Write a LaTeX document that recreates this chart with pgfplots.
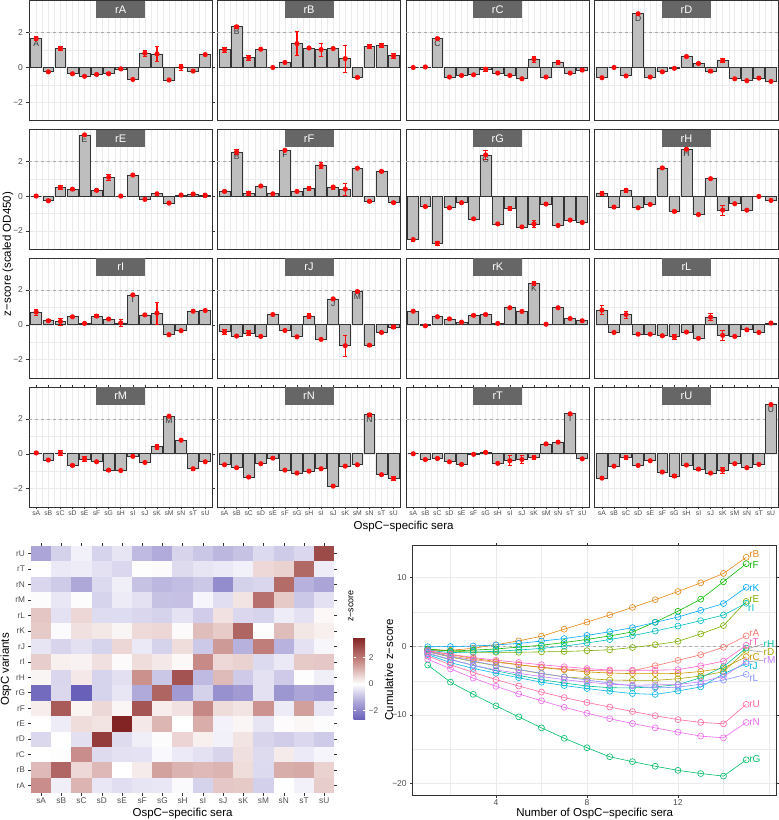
\documentclass[border=0pt]{standalone}
\usepackage{fontspec}
\setmainfont{Liberation Sans}
\usepackage{pgfplots}
\usepackage{pgfplotstable}
\pgfplotsset{compat=1.18}

\definecolor{tickgray}{RGB}{77,77,77}
\definecolor{framegray}{RGB}{51,51,51}
\definecolor{gridgray}{RGB}{235,235,235}
\definecolor{stripgray}{RGB}{102,102,102}
\definecolor{barfill}{RGB}{190,190,190}
\definecolor{errred}{RGB}{255,10,10}
\definecolor{cA}{HTML}{F8766D}
\definecolor{cB}{HTML}{E68613}
\definecolor{cC}{HTML}{CD9600}
\definecolor{cD}{HTML}{ABA300}
\definecolor{cE}{HTML}{7CAE00}
\definecolor{cF}{HTML}{0CB702}
\definecolor{cG}{HTML}{00BE67}
\definecolor{cH}{HTML}{00C19A}
\definecolor{cI}{HTML}{00BFC4}
\definecolor{cJ}{HTML}{00B8E7}
\definecolor{cK}{HTML}{00A9FF}
\definecolor{cL}{HTML}{8494FF}
\definecolor{cM}{HTML}{C77CFF}
\definecolor{cN}{HTML}{ED68ED}
\definecolor{cT}{HTML}{FF61CC}
\definecolor{cU}{HTML}{FF68A1}

% z-scores of each OspC variant (columns) against each serum (rows x=1..15: sA..sU), with error half-widths
\pgfplotstableread{
x A eA B eB C eC D eD E eE F eF G eG H eH I eI J eJ K eK L eL M eM N eN T eT U eU
1 1.66 .10 1.03 .15 0.00 .02 -0.59 .06 0.00 .10 0.27 .05 -2.50 .09 0.15 .12 0.73 .17 -0.40 .15 0.78 .03 0.84 .25 0.05 .05 -0.63 .03 0.00 .03 -1.40 .02
2 -0.25 .03 2.34 .10 0.03 .02 0.00 .02 -0.27 .06 2.54 .13 -0.60 .03 -0.63 .03 0.23 .06 -0.65 .03 -0.06 .03 -0.44 .04 -0.36 .03 -0.80 .04 -0.33 .03 -0.71 .05
3 1.09 .12 0.57 .14 1.66 .05 -0.48 .08 0.50 .10 0.17 .12 -2.71 .10 0.33 .14 0.19 .20 -0.48 .13 0.46 .05 0.59 .20 0.05 .15 -1.34 .04 -0.27 .06 -0.21 .10
4 -0.36 .03 1.05 .05 -0.55 .03 3.09 .06 0.40 .07 0.58 .03 -0.67 .03 -0.67 .03 0.46 .05 -0.67 .03 0.34 .05 -0.54 .03 -0.67 .05 -0.57 .05 -0.46 .03 -0.67 .04
5 -0.51 .03 0.00 .02 -0.46 .03 -0.55 .03 3.52 .03 0.13 .02 -0.38 .03 -0.48 .03 0.08 .02 0.59 .05 0.15 .03 -0.54 .03 -0.30 .13 -0.25 .05 -0.61 .03 -0.40 .04
6 -0.40 .03 0.29 .04 -0.42 .03 -0.25 .05 0.33 .04 2.63 .03 -1.31 .03 1.62 .03 0.50 .10 -0.33 .03 0.54 .03 -0.63 .03 -0.46 .03 -0.94 .03 -0.03 .03 -1.05 .03
7 -0.36 .05 1.37 .70 -0.10 .12 -0.05 .02 1.08 .15 0.27 .07 2.37 .25 -0.88 .03 0.33 .03 -0.69 .05 0.59 .04 -0.69 .13 -0.94 .06 -1.11 .07 0.08 .04 -1.28 .07
8 -0.08 .10 1.12 .07 -0.32 .03 0.63 .03 0.00 .05 0.44 .10 -1.60 .03 2.69 .06 0.11 .22 0.50 .14 0.08 .02 -0.42 .03 -0.96 .03 -1.00 .04 -0.55 .05 -0.65 .04
9 -0.69 .05 1.03 .37 -0.46 .04 0.23 .05 1.21 .02 1.75 .17 -0.71 .10 -1.06 .03 1.72 .03 -0.84 .03 0.98 .04 -0.78 .03 -0.15 .03 -0.86 .06 -0.40 .28 -0.88 .06
10 0.82 .18 1.09 .04 -0.65 .03 -0.21 .06 -0.19 .03 0.52 .11 -1.77 .03 1.00 .03 0.57 .05 1.49 .10 0.77 .08 0.44 .20 -0.50 .04 -1.86 .07 -0.33 .25 -1.11 .03
11 0.78 .42 0.51 .78 0.48 .17 0.40 .13 0.13 .03 0.40 .35 -1.60 .20 -0.81 .28 0.67 .62 -1.20 .60 2.37 .10 -0.61 .30 0.40 .15 -0.71 .07 -0.21 .12 -0.94 .17
12 -0.72 .03 -0.57 .03 -0.55 .03 -0.65 .03 -0.40 .03 1.60 .03 -0.46 .03 -0.44 .03 -0.57 .03 1.91 .06 0.03 .02 -0.67 .03 2.16 .03 -0.63 .03 0.57 .03 -0.57 .06
13 0.02 .18 1.20 .10 0.29 .10 -0.76 .06 0.06 .05 -0.30 .06 -1.69 .03 -0.81 .05 -0.34 .05 -1.17 .06 0.98 .04 -0.29 .07 0.78 .03 2.24 .08 0.67 .07 -0.80 .05
14 -0.21 .03 1.26 .10 -0.32 .03 -0.61 .07 0.12 .07 1.42 .05 -1.38 .03 -0.02 .02 0.78 .03 -0.44 .03 0.36 .04 -0.44 .03 -0.86 .08 -1.20 .03 2.30 .10 -0.61 .04
15 0.74 .03 0.67 .13 -0.15 .08 -0.80 .07 0.05 .13 -0.38 .06 -1.52 .03 -0.25 .05 0.82 .04 -0.13 .07 0.23 .03 0.10 .10 -0.46 .06 -1.42 .12 -0.29 .04 2.83 .07
}\zs

% cumulative z-score against number of sera
\pgfplotstableread{
n A B C D E F G H I J K L M N T U
1 -0.72 -0.57 -0.65 -0.80 -0.40 -0.38 -2.71 -1.06 -0.57 -1.20 -0.06 -0.78 -0.96 -1.86 -0.61 -1.40
2 -1.41 -0.57 -1.20 -1.56 -0.67 -0.68 -5.21 -1.94 -0.91 -2.37 -0.03 -1.47 -1.90 -3.28 -1.16 -2.68
3 -1.92 -0.28 -1.75 -2.21 -0.86 -0.55 -6.98 -2.75 -0.83 -3.21 0.05 -2.14 -2.76 -4.62 -1.62 -3.79
4 -2.32 0.23 -2.21 -2.82 -0.86 -0.38 -8.67 -3.56 -0.72 -3.90 0.20 -2.77 -3.43 -5.82 -2.02 -4.84
5 -2.68 0.80 -2.67 -3.41 -0.86 -0.11 -10.27 -4.23 -0.53 -4.57 0.43 -3.38 -3.93 -6.93 -2.35 -5.78
6 -3.04 1.47 -3.09 -3.96 -0.81 0.16 -11.87 -4.86 -0.30 -5.22 0.77 -3.92 -4.39 -7.93 -2.68 -6.66
7 -3.29 2.50 -3.41 -4.44 -0.75 0.56 -13.39 -5.34 0.03 -5.70 1.13 -4.46 -4.85 -8.87 -2.97 -7.46
8 -3.50 3.53 -3.73 -4.69 -0.63 1.00 -14.77 -5.78 0.49 -6.14 1.59 -4.90 -5.21 -9.73 -3.24 -8.17
9 -3.58 4.58 -3.88 -4.90 -0.50 1.52 -16.08 -6.03 0.99 -6.54 2.13 -5.34 -5.51 -10.53 -3.45 -8.84
10 -3.56 5.67 -3.98 -4.95 -0.17 2.10 -16.79 -6.05 1.56 -6.87 2.72 -5.76 -5.66 -11.24 -3.48 -9.49
11 -2.82 6.79 -3.98 -4.95 0.23 3.52 -17.46 -5.90 2.23 -7.00 3.49 -6.05 -5.61 -11.87 -3.48 -10.10
12 -2.04 7.99 -3.95 -4.72 0.73 5.12 -18.06 -5.57 2.96 -6.50 4.27 -5.95 -5.56 -12.50 -3.40 -10.67
13 -1.22 9.25 -3.66 -4.32 1.81 6.87 -18.52 -4.57 3.74 -5.91 5.25 -5.51 -5.16 -13.07 -2.83 -11.07
14 -0.13 10.62 -3.18 -3.69 3.02 9.41 -18.90 -2.95 4.56 -4.00 6.23 -4.92 -4.38 -13.32 -2.16 -11.28
15 1.53 12.96 -1.52 -0.60 6.54 12.04 -16.53 -0.26 6.28 -2.51 8.60 -4.08 -2.22 -11.08 0.14 -8.45
}\cum

\pgfdeclareplotmark{hcell}{\pgfpathrectangle{\pgfpoint{-10.25pt}{-7.85pt}}{\pgfpoint{20.5pt}{15.7pt}}\pgfusepathqfill}

\tikzset{
  strip/.style={fill=stripgray, text=white, minimum width=49pt, minimum height=17.6pt, inner sep=0pt, anchor=north, font=\fontsize{11}{12}\selectfont},
  lett/.style={anchor=north, yshift=-0.5pt, inner sep=1pt, text=framegray, font=\fontsize{8.5}{9}\selectfont},
  rlab/.style={anchor=west, inner sep=0pt, font=\fontsize{10}{11}\selectfont},
}

\pgfplotsset{
  barpanel/.style={
    scale only axis, width=183.5pt, height=120pt, anchor=south west,
    xmin=0.4, xmax=15.6, ymin=-3.06, ymax=3.84,
    xtick={1,...,15}, ytick={-2,0,2}, minor x tick num=1, minor y tick num=1,
    grid=both,
    major grid style={draw=gridgray, line width=0.55pt},
    minor grid style={draw=gridgray, line width=0.3pt},
    axis line style={draw=framegray, line width=0.8pt},
    tick align=outside, major tick length=2.5pt, minor tick length=0pt,
    tick style={draw=framegray, line width=0.5pt},
    xticklabels={}, yticklabels={},
    xtick style={draw=none}, ytick style={draw=none},
    extra y ticks={2}, extra y tick labels={},
    extra y tick style={grid=major, major grid style={dashed, draw=gray!65, line width=0.6pt}, major tick length=0pt},
    tick label style={text=tickgray},
    xticklabel style={font=\fontsize{6.8}{7}\selectfont, inner sep=1pt},
    yticklabel style={font=\fontsize{8.5}{9}\selectfont},
  },
  leftcol/.style={yticklabels={−2,0,2}, ytick style={draw=framegray}},
  bottomrow/.style={xticklabels={sA,sB,sC,sD,sE,sF,sG,sH,sI,sJ,sK,sM,sN,sT,sU}, xtick style={draw=framegray}},
  hrow/.style={scatter, only marks, mark=hcell, point meta=explicit, scatter/use mapped color={draw=none, fill=mapped color}},
}

\newcommand{\barpanel}[5]{%
  \begin{axis}[barpanel, at={(#1)}, #4]
    \addplot[ybar, bar width=0.9, fill=barfill, draw=framegray, line width=0.7pt]
      table[x=x, y=#2]{\zs};
    \addplot[color=errred, draw=errred, only marks, mark=none, line width=1.1pt,
      error bars/.cd, y dir=both, y explicit,
      error bar style={color=errred, draw=errred, solid, line width=1.1pt},
      error mark options={rotate=90, color=errred, draw=errred, line width=0.8pt, mark size=2.2pt}]
      table[x=x, y=#2, y error=e#2]{\zs};
    \node[strip] at (rel axis cs:0.5,1) {#3};
    #5
  \end{axis}}

\begin{document}
\begin{tikzpicture}
\useasboundingbox (0,0) rectangle (779pt,820pt);

% ---------------- faceted bar panels ----------------
\barpanel{29pt,699.3pt}{A}{rA}{leftcol}{\node[lett] at (axis cs:1,1.66) {A};}
\barpanel{217.3pt,699.3pt}{B}{rB}{}{\node[lett] at (axis cs:2,2.34) {B};}
\barpanel{406pt,699.3pt}{C}{rC}{}{\node[lett] at (axis cs:3,1.66) {C};}
\barpanel{594.7pt,699.3pt}{D}{rD}{}{\node[lett] at (axis cs:4,3.09) {D};}

\barpanel{29pt,570.7pt}{E}{rE}{leftcol}{\node[lett] at (axis cs:5,3.52) {E};}
\barpanel{217.3pt,570.7pt}{F}{rF}{}{\node[lett] at (axis cs:2,2.54) {B};\node[lett] at (axis cs:6,2.63) {F};}
\barpanel{406pt,570.7pt}{G}{rG}{}{\node[lett] at (axis cs:7,2.37) {G};}
\barpanel{594.7pt,570.7pt}{H}{rH}{}{\node[lett] at (axis cs:8,2.69) {H};}

\barpanel{29pt,442pt}{I}{rI}{leftcol}{\node[lett] at (axis cs:9,1.72) {I};}
\barpanel{217.3pt,442pt}{J}{rJ}{}{\node[lett] at (axis cs:10,1.49) {J};\node[lett] at (axis cs:12,1.91) {M};}
\barpanel{406pt,442pt}{K}{rK}{}{\node[lett] at (axis cs:11,2.37) {K};}
\barpanel{594.7pt,442pt}{L}{rL}{}{}

\barpanel{29pt,313pt}{M}{rM}{leftcol,bottomrow}{\node[lett] at (axis cs:12,2.16) {M};}
\barpanel{217.3pt,313pt}{N}{rN}{bottomrow}{\node[lett] at (axis cs:13,2.24) {N};}
\barpanel{406pt,313pt}{T}{rT}{bottomrow}{\node[lett] at (axis cs:14,2.30) {T};}
\barpanel{594.7pt,313pt}{U}{rU}{bottomrow}{\node[lett] at (axis cs:15,2.83) {U};}

\node[rotate=90, font=\fontsize{11.5}{12}\selectfont] at (8pt,566pt) {z−score (scaled OD450)};
\node[font=\fontsize{11.5}{12}\selectfont] at (403.6pt,293pt) {OspC−specific sera};

% ---------------- heatmap ----------------
\begin{axis}[scale only axis, width=303.3pt, height=247.6pt, at={(31pt,26.7pt)}, anchor=south west,
  xmin=0.5, xmax=15.5, ymin=0.5, ymax=16.5,
  xtick={1,...,15}, ytick={1,...,16},
  xticklabels={sA,sB,sC,sD,sE,sF,sG,sH,sI,sJ,sK,sM,sN,sT,sU},
  yticklabels={rA,rB,rC,rD,rE,rF,rG,rH,rI,rJ,rK,rL,rM,rN,rT,rU},
  axis line style={draw=none},
  tick align=outside, major tick length=2.5pt, tick style={draw=framegray, line width=0.5pt},
  tick label style={text=tickgray, font=\fontsize{8.3}{9}\selectfont},
  xticklabel style={inner sep=1.5pt},
  colormap={zsmap}{rgb255(0pt)=(104,96,185); rgb255(14pt)=(176,170,218); rgb255(27pt)=(255,255,255); rgb255(45pt)=(196,132,128); rgb255(62pt)=(131,36,36)},
  point meta min=-2.71, point meta max=3.52,
  colorbar,
  colorbar style={at={(parent axis.south east)}, anchor=south west, xshift=10.7pt, yshift=73.5pt,
    scale only axis, width=11.7pt, height=82.3pt,
    ytick={-2,0,2}, yticklabels={−2,0,2},
    axis line style={draw=none},
    tick align=inside, major tick length=2.5pt, tick style={draw=white, line width=0.5pt},
    yticklabel style={text=tickgray, font=\fontsize{8.3}{9}\selectfont}},
]
\addplot[hrow] table[x=x, y expr=1, meta=A]{\zs};
\addplot[hrow] table[x=x, y expr=2, meta=B]{\zs};
\addplot[hrow] table[x=x, y expr=3, meta=C]{\zs};
\addplot[hrow] table[x=x, y expr=4, meta=D]{\zs};
\addplot[hrow] table[x=x, y expr=5, meta=E]{\zs};
\addplot[hrow] table[x=x, y expr=6, meta=F]{\zs};
\addplot[hrow] table[x=x, y expr=7, meta=G]{\zs};
\addplot[hrow] table[x=x, y expr=8, meta=H]{\zs};
\addplot[hrow] table[x=x, y expr=9, meta=I]{\zs};
\addplot[hrow] table[x=x, y expr=10, meta=J]{\zs};
\addplot[hrow] table[x=x, y expr=11, meta=K]{\zs};
\addplot[hrow] table[x=x, y expr=12, meta=L]{\zs};
\addplot[hrow] table[x=x, y expr=13, meta=M]{\zs};
\addplot[hrow] table[x=x, y expr=14, meta=N]{\zs};
\addplot[hrow] table[x=x, y expr=15, meta=T]{\zs};
\addplot[hrow] table[x=x, y expr=16, meta=U]{\zs};
\end{axis}
\node[rotate=90, font=\fontsize{9}{10}\selectfont] at (351pt,214pt) {z−score};
\node[rotate=90, font=\fontsize{11.5}{12}\selectfont] at (6pt,150.5pt) {OspC variants};
\node[font=\fontsize{11.5}{12}\selectfont] at (182.6pt,6.5pt) {OspC−specific sera};

% ---------------- cumulative lines ----------------
\begin{axis}[scale only axis, width=364pt, height=249.3pt, at={(412.7pt,25pt)}, anchor=south west,
  xmin=0.34, xmax=16.34, ymin=-21.65, ymax=14.66,
  xtick={4,8,12}, xticklabels={4,8,12}, minor xtick={2,6,10,14,16},
  ytick={-20,-10,0,10}, yticklabels={−20,−10,0,10}, minor ytick={-15,-5,5},
  grid=both,
  major grid style={draw=gridgray, line width=0.55pt},
  minor grid style={draw=gridgray, line width=0.3pt},
  axis line style={draw=framegray, line width=0.8pt},
  tick align=outside, major tick length=2.5pt, minor tick length=0pt,
  tick style={draw=framegray, line width=0.5pt},
  extra y ticks={0}, extra y tick labels={},
  extra y tick style={grid=major, major grid style={dashed, draw=gray!65, line width=0.6pt}, major tick length=0pt},
  tick label style={text=tickgray, font=\fontsize{8.5}{9}\selectfont},
  xticklabel style={inner sep=1.5pt},
  clip mode=individual,
  every axis plot/.append style={line width=0.6pt, mark=o, mark size=3pt, mark options={solid, line width=0.6pt}},
]
\addplot[cA] table[x=n, y=A]{\cum};
\addplot[cB] table[x=n, y=B]{\cum};
\addplot[cC] table[x=n, y=C]{\cum};
\addplot[cD] table[x=n, y=D]{\cum};
\addplot[cE] table[x=n, y=E]{\cum};
\addplot[cF] table[x=n, y=F]{\cum};
\addplot[cG] table[x=n, y=G]{\cum};
\addplot[cH] table[x=n, y=H]{\cum};
\addplot[cI] table[x=n, y=I]{\cum};
\addplot[cJ] table[x=n, y=J]{\cum};
\addplot[cK] table[x=n, y=K]{\cum};
\addplot[cL] table[x=n, y=L]{\cum};
\addplot[cM] table[x=n, y=M]{\cum};
\addplot[cN] table[x=n, y=N]{\cum};
\addplot[cT] table[x=n, y=T]{\cum};
\addplot[cU] table[x=n, y=U]{\cum};
\draw[gray, line width=0.4pt] (axis cs:15.15,-0.26) -- (axis cs:15.74,0.33);
\draw[gray, line width=0.4pt] (axis cs:15.15,-0.60) -- (axis cs:15.74,-0.82);
\draw[gray, line width=0.4pt] (axis cs:15.15,-2.22) -- (axis cs:15.74,-2.04);
\node[rlab, text=cB] at (axis cs:15.13,13.4) {rB};
\node[rlab, text=cF] at (axis cs:15.13,11.85) {rF};
\node[rlab, text=cK] at (axis cs:15.13,8.54) {rK};
\node[rlab, text=cE] at (axis cs:15.13,6.9) {rE};
\node[rlab, text=cI] at (axis cs:15.08,5.53) {rI};
\node[rlab, text=cA] at (axis cs:15.13,1.94) {rA};
\node[rlab, text=cT] at (axis cs:15.13,0.68) {rT};
\node[rlab, text=cH] at (axis cs:15.76,0.33) {rH};
\node[rlab, text=cD] at (axis cs:15.76,-0.82) {rD};
\node[rlab, text=cC] at (axis cs:15.13,-1.5) {rC};
\node[rlab, text=cM] at (axis cs:15.76,-2.04) {rM};
\node[rlab, text=cJ] at (axis cs:15.13,-2.9) {rJ};
\node[rlab, text=cL] at (axis cs:15.13,-4.66) {rL};
\node[rlab, text=cU] at (axis cs:15.13,-8.45) {rU};
\node[rlab, text=cN] at (axis cs:15.13,-10.97) {rN};
\node[rlab, text=cG] at (axis cs:15.13,-16.4) {rG};
\end{axis}
\node[rotate=90, font=\fontsize{11.5}{12}\selectfont] at (389pt,150pt) {Cumulative z−score};
\node[font=\fontsize{11.5}{12}\selectfont] at (594.7pt,6.5pt) {Number of OspC−specific sera};
\end{tikzpicture}
\end{document}
